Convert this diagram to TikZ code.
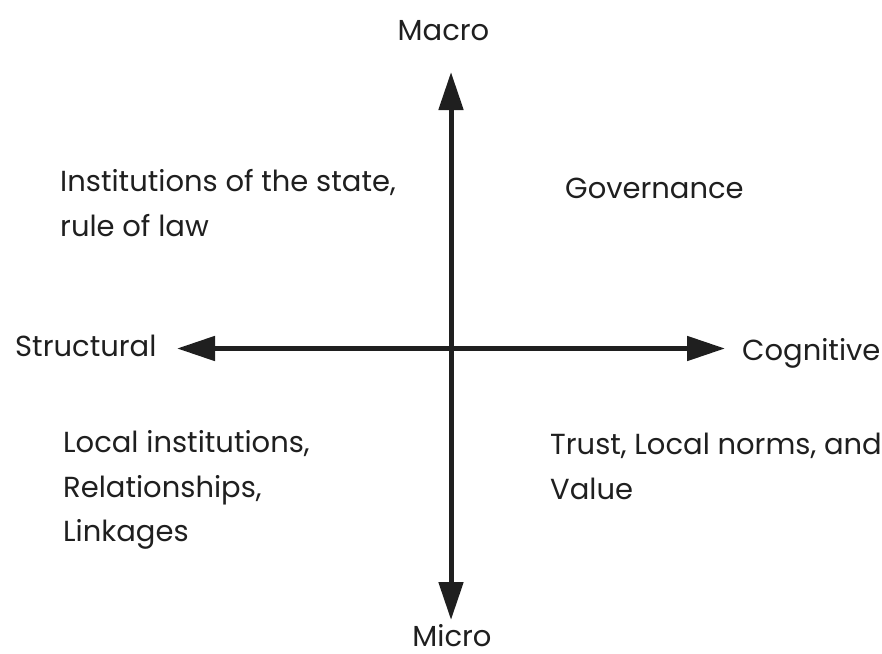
\documentclass[tikz,border=0pt]{standalone}
\usepackage{fontspec}
\setmainfont{Poppins}
\usetikzlibrary{arrows.meta}
\begin{document}
\begin{tikzpicture}[x=1pt,y=-1pt,
  axis/.style={line width=5pt,draw=black!88,
    arrows={Triangle[length=38pt,width=24pt]-Triangle[length=38pt,width=24pt]}},
  lbl/.style={inner sep=0pt,anchor=base west,text=black!88,
    font=\fontsize{29}{44.7}\selectfont},
  multi/.style={lbl,align=left}]
\useasboundingbox (0,0) rectangle (882,653);
\coordinate (top) at (451,72);
\coordinate (bot) at (451,620);
\coordinate (lft) at (177,348.5);
\coordinate (rgt) at (725,348.5);
\draw[axis] (bot) -- (top);
\draw[axis] (lft) -- (rgt);
\node[lbl,anchor=base] (macro) at (443.5,40) {Macro};
\node[lbl,anchor=base] (micro) at (452,646) {Micro};
\node[lbl] (struct) at (15,356.7) {Structural};
\node[lbl] (cogn) at (742,360) {Cognitive};
\node[multi] (inst) at (60,236) {Institutions of the state,\\rule of law};
\node[lbl] (gov) at (565,198.3) {Governance};
\node[multi] (local) at (63,541.7) {Local institutions,\\Relationships,\\Linkages};
\node[multi] (trust) at (550,499.3) {Trust, Local norms, and\\Value};
\end{tikzpicture}
\end{document}
